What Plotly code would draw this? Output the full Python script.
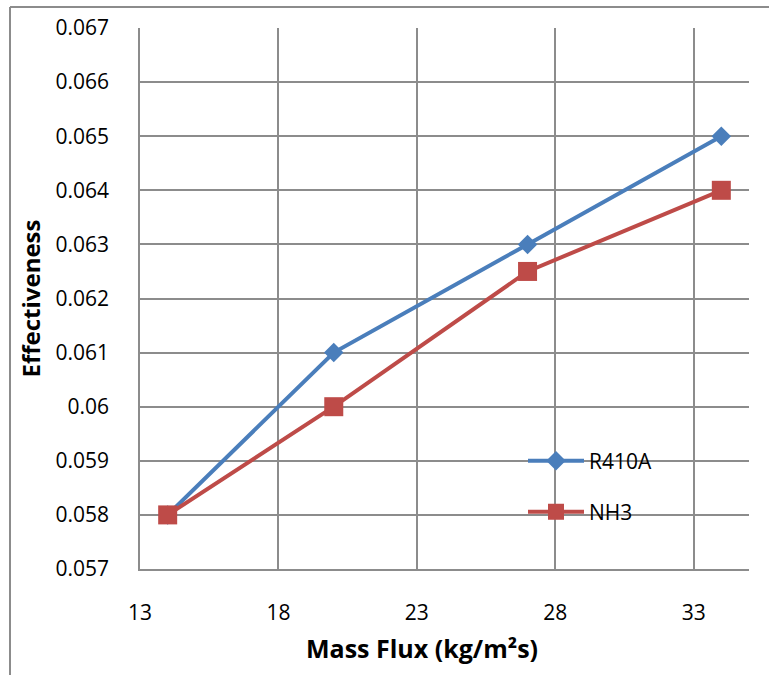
import plotly.graph_objects as go

mass_flux = [14, 20, 27, 34]
r410a = [0.058, 0.061, 0.063, 0.065]
nh3 = [0.058, 0.060, 0.0625, 0.064]
y_ticks = [0.057, 0.058, 0.059, 0.060, 0.061, 0.062, 0.063, 0.064, 0.065, 0.066, 0.067]
y_tick_labels = ["0.057", "0.058", "0.059", "0.06", "0.061", "0.062", "0.063", "0.064", "0.065", "0.066", "0.067"]
x_ticks = [13, 18, 23, 28, 33]

FONT = "Open Sans, Liberation Sans, sans-serif"
GRID = "#8c8c8c"

fig = go.Figure()
fig.add_trace(go.Scatter(
    x=mass_flux, y=r410a, name="R410A", mode="lines+markers",
    line=dict(color="#4A7EBB", width=4),
    marker=dict(symbol="diamond", size=15, color="#4A7EBB"),
    legend="legend",
))
fig.add_trace(go.Scatter(
    x=mass_flux, y=nh3, name="NH3", mode="lines+markers",
    line=dict(color="#BE4B48", width=4),
    marker=dict(symbol="square", size=19, color="#BE4B48"),
    legend="legend2",
))

W, H = 769, 675
L, R, T, B = 140, 20, 28, 106
pw = W - L - R
ph = H - T - B

fig.update_layout(
    width=W, height=H,
    margin=dict(l=L, r=R, t=T, b=B),
    paper_bgcolor="white", plot_bgcolor="white",
    font=dict(family=FONT, size=21, color="black"),
    xaxis=dict(
        range=[13, 35], tickvals=x_ticks, showgrid=True, gridcolor=GRID, gridwidth=1.5,
        showline=True, linecolor=GRID, linewidth=1.5, zeroline=False,
        ticks="outside", ticklen=24, tickcolor="rgba(0,0,0,0)",
        tickfont=dict(size=21),
    ),
    yaxis=dict(
        range=[0.057, 0.067], tickvals=y_ticks, ticktext=y_tick_labels,
        showgrid=True, gridcolor=GRID, gridwidth=1.5,
        showline=True, linecolor=GRID, linewidth=1.5, zeroline=False,
        ticks="outside", ticklen=25, tickcolor="rgba(0,0,0,0)",
        tickfont=dict(size=21),
        title=dict(text="<b>Effectiveness</b>", font=dict(size=24), standoff=8),
    ),
    legend=dict(
        x=(523 - L) / pw, y=(H - B - 461) / ph, xanchor="left", yanchor="middle",
        bgcolor="rgba(0,0,0,0)", font=dict(size=21), itemwidth=56,
    ),
    legend2=dict(
        x=(523 - L) / pw, y=(H - B - 512) / ph, xanchor="left", yanchor="middle",
        bgcolor="rgba(0,0,0,0)", font=dict(size=21), itemwidth=56,
    ),
    showlegend=True,
)

# x-axis title (offset left of plot centre as in the reference)
fig.add_annotation(
    text="<b>Mass Flux (kg/m²s)</b>", xref="paper", yref="paper",
    x=(422 - L) / pw, y=(H - B - 648) / ph, xanchor="center", yanchor="middle",
    showarrow=False, font=dict(size=25),
)

# outer chart-area border (left and top edges visible)
x0 = (10 - L) / pw
y_top = (H - B - 7) / ph
fig.add_shape(type="line", xref="paper", yref="paper", x0=x0, x1=x0, y0=y_top, y1=-0.5,
              line=dict(color="#8c8c8c", width=2))
fig.add_shape(type="line", xref="paper", yref="paper", x0=x0, x1=1.5, y0=y_top, y1=y_top,
              line=dict(color="#8c8c8c", width=2))

fig.write_html("out.html")
